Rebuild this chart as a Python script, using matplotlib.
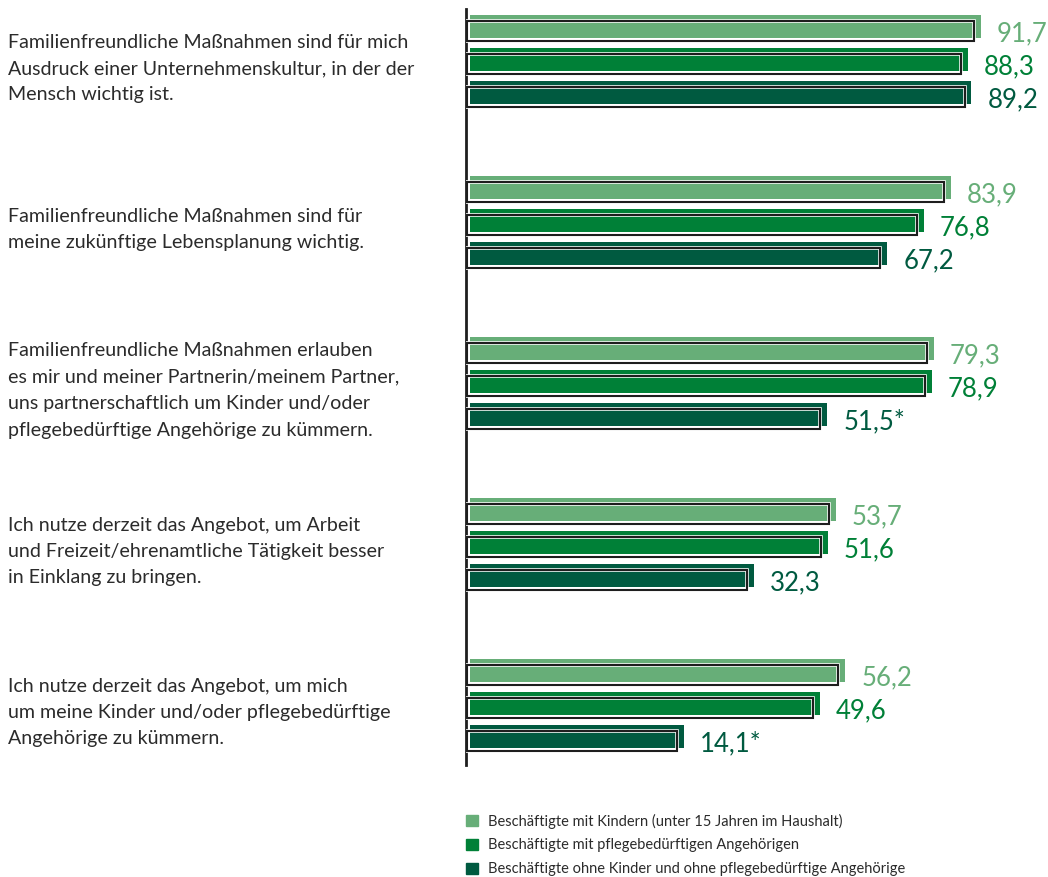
import matplotlib
matplotlib.use("Agg")
import matplotlib.pyplot as plt
from matplotlib.patches import Rectangle
from matplotlib.transforms import blended_transform_factory

plt.rcParams['font.family'] = ['Lato', 'DejaVu Sans']

# Daten (Anteile in Prozent)
aussagen = [
    "Familienfreundliche Maßnahmen sind für mich\nAusdruck einer Unternehmenskultur, in der der\nMensch wichtig ist.",
    "Familienfreundliche Maßnahmen sind für\nmeine zukünftige Lebensplanung wichtig.",
    "Familienfreundliche Maßnahmen erlauben\nes mir und meiner Partnerin/meinem Partner,\nuns partnerschaftlich um Kinder und/oder\npflegebedürftige Angehörige zu kümmern.",
    "Ich nutze derzeit das Angebot, um Arbeit\nund Freizeit/ehrenamtliche Tätigkeit besser\nin Einklang zu bringen.",
    "Ich nutze derzeit das Angebot, um mich\num meine Kinder und/oder pflegebedürftige\nAngehörige zu kümmern.",
]
mit_kindern = [91.7, 83.9, 79.3, 53.7, 56.2]
mit_pflege = [88.3, 76.8, 78.9, 51.6, 49.6]
ohne_beides = [89.2, 67.2, 51.5, 32.3, 14.1]
sterne_ohne = ["", "", "*", "", "*"]

gruppen = ["Beschäftigte mit Kindern (unter 15 Jahren im Haushalt)",
           "Beschäftigte mit pflegebedürftigen Angehörigen",
           "Beschäftigte ohne Kinder und ohne pflegebedürftige Angehörige"]
farben = ["#67ae78", "#008037", "#005a40"]
textfarbe = "#2b2b2b"

serien = [mit_kindern, mit_pflege, ohne_beides]
sterne = [[""] * 5, [""] * 5, sterne_ohne]

W, H = 1048, 878
fig = plt.figure(figsize=(W / 100, H / 100), dpi=100)
ax_top, ax_bot = 10, 766
ax = fig.add_axes([466 / W, 1 - ax_bot / H, (W - 466) / W, (ax_bot - ax_top) / H])

xmin, xmax = -42.85, 109.2
basis = -41.8
rahmen_basis = -42.6
ax.set_xlim(xmin, xmax)
ax.set_ylim(22.38, -0.53)

gruppen_abstand = 4.88
bar_h = 0.70

for j, (werte, farbe, st) in enumerate(zip(serien, farben, sterne)):
    ys = [g * gruppen_abstand + j for g in range(len(werte))]
    ax.barh(ys, [v - basis for v in werte], left=basis, height=bar_h,
            color=farbe, zorder=2)
    ys_r = [y + 0.14 for y in ys]
    breiten = [(v - 1.8) - rahmen_basis for v in werte]
    ax.barh(ys_r, breiten, left=rahmen_basis, height=0.60, fill=False,
            edgecolor="white", linewidth=2.6, zorder=3)
    ax.barh(ys_r, breiten, left=rahmen_basis, height=0.60, fill=False,
            edgecolor="#1e1e1e", linewidth=1.5, zorder=4)
    for v, y, s in zip(werte, ys, st):
        ax.text(v + 4.2, y + 0.2, f"{v:.1f}".replace(".", ",") + s,
                color=farbe, fontsize=18.5, va="center", ha="left")

for side in ["top", "right", "bottom"]:
    ax.spines[side].set_visible(False)
ax.spines["left"].set_linewidth(2)
ax.spines["left"].set_color("#1e1e1e")
ax.set_xticks([])
ax.set_yticks([])

# Aussagen links
trans = blended_transform_factory(fig.transFigure, ax.transData)
for g, txt in enumerate(aussagen):
    ax.text(8 / W, g * gruppen_abstand + 1 + 0.24, txt, transform=trans,
            ha="left", va="center", fontsize=14.1, color=textfarbe,
            linespacing=1.67, clip_on=False)

# Legende
for i, (name, farbe) in enumerate(zip(gruppen, farben)):
    yc = 821 + i * 24
    fig.patches.append(Rectangle((466 / W, 1 - (yc + 5.5) / H), 11.5 / W, 11 / H,
                                 transform=fig.transFigure, color=farbe))
    fig.text(488 / W, 1 - yc / H, name, fontsize=10.5, color=textfarbe,
             va="center", ha="left")

fig.savefig("out.png", dpi=100)
